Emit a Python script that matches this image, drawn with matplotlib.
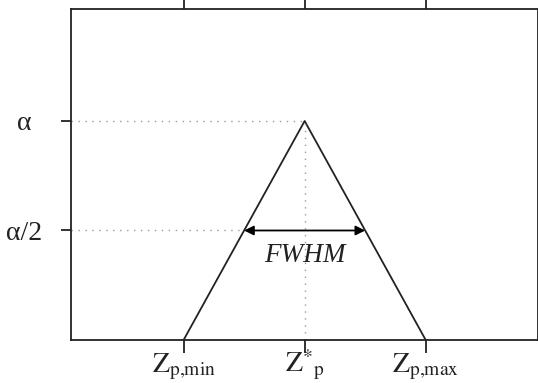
import numpy as np
import matplotlib
matplotlib.use('Agg')
import matplotlib.pyplot as plt

plt.rcParams['mathtext.fontset'] = 'stix'
plt.rcParams['font.family'] = ['Liberation Serif', 'DejaVu Serif']

# triangular profile: zero at Zp,min / Zp,max, peak alpha at Zp*
z_pos = [-1.0, 0.0, 1.0]
profile = [0.0, 1.0, 0.0]
alpha = 1.0
half = alpha / 2
fwhm_ends = [-0.5, 0.5]

x_labels = [r'$\mathrm{Z}_{\mathrm{p{,}min}}$', r'$\mathrm{Z}^{*}{}_{\mathrm{p}}$', r'$\mathrm{Z}_{\mathrm{p{,}max}}$']
y_ticks = [half, alpha]
y_labels = ['α/2', 'α']

ink = '#222222'
dot_col = '#9a9a9a'

fig = plt.figure(figsize=(5.38, 3.83), dpi=100)
ax = fig.add_axes([0.132, 0.1123, 0.8674, 0.8634])

ax.plot(z_pos, profile, color=ink, lw=1.3)

# guide lines
ax.plot([-1.93, z_pos[1]], [alpha, alpha], color=dot_col, lw=1, ls=(0, (1, 4)))
ax.plot([-1.93, fwhm_ends[0]], [half, half], color=dot_col, lw=1, ls=(0, (1, 4)))
ax.plot([z_pos[1], z_pos[1]], [0, alpha], color=dot_col, lw=1, ls=(0, (1, 4)))

ax.annotate('', xy=(fwhm_ends[0], half), xytext=(fwhm_ends[1], half),
            arrowprops=dict(arrowstyle='<|-|>', color='black', lw=1.3,
                            mutation_scale=14, shrinkA=0, shrinkB=0))
ax.text(0, 0.385, 'FWHM', ha='center', va='center', fontsize=19.5,
        style='italic', color=ink)

ax.set_xlim(-1.93, 1.925)
ax.set_ylim(0, 1.51)

ax.set_xticks(z_pos)
ax.set_xticklabels(x_labels, fontsize=20, color=ink)
ax.set_yticks(y_ticks)
ax.set_yticklabels(y_labels, fontsize=20, color=ink)

ax.tick_params(axis='x', direction='out', length=9, width=1.3, color=ink,
               top=True, pad=14.5)
ax.tick_params(axis='y', direction='out', length=7, width=1.3, color=ink,
               pad=26.5)
for lab in ax.get_xticklabels():
    lab.set_va('baseline')
for lab in ax.get_yticklabels():
    lab.set_ha('center')

for s in ax.spines.values():
    s.set_color(ink)
    s.set_linewidth(1.3)

fig.savefig('out.png', dpi=100)
